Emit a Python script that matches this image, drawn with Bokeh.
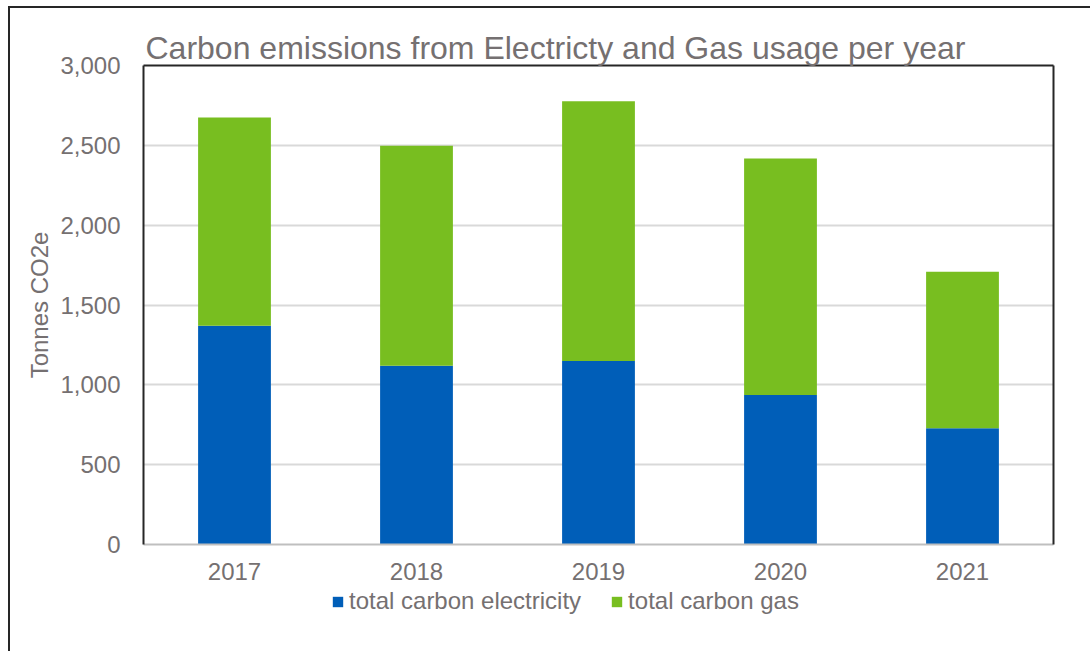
from bokeh.plotting import figure
from bokeh.layouts import column
from bokeh.models import (ColumnDataSource, Legend, LegendItem, LinearAxis, NumeralTickFormatter,
                          FixedTicker, Range1d)
from bokeh.embed import file_html
from bokeh.resources import INLINE

years = ["2017", "2018", "2019", "2020", "2021"]
electricity = [1370, 1120, 1150, 936, 728]
gas = [1305, 1378, 1626, 1482, 981]
series = ["electricity", "gas"]
series_labels = ["total carbon electricity", "total carbon gas"]
colors = ["#005EB8", "#78BE20"]
y_ticks = [0, 500, 1000, 1500, 2000, 2500, 3000]

FONT = "Liberation Sans"
TXT = "#757071"
BORDER = "2px solid #262626"

src = ColumnDataSource(dict(years=years, electricity=electricity, gas=gas))

p = figure(x_range=years, y_range=Range1d(0, 3000), width=1082, height=580,
           output_backend="svg", toolbar_location=None,
           min_border_left=133, min_border_right=39, min_border_top=57, min_border_bottom=44)
p.margin = (6, 0, 0, 8)
p.styles = {"border-left": BORDER, "border-top": BORDER}
p.title.text = "Carbon emissions from Electricty and Gas usage per year"
p.title.text_font = FONT
p.title.text_font_size = "32px"
p.title.text_font_style = "normal"
p.title.text_color = TXT
p.title.offset = 2
p.title.standoff = 0

p.vbar_stack(series, x="years", width=0.4, source=src, color=colors, line_color=None)

p.xgrid.grid_line_color = None
p.ygrid.grid_line_color = "#d9d9d9"
p.ygrid.grid_line_width = 2
p.ygrid.ticker = FixedTicker(ticks=y_ticks)
p.outline_line_color = None

p.yaxis.ticker = FixedTicker(ticks=y_ticks)
p.yaxis.formatter = NumeralTickFormatter(format="0,0")
p.yaxis.axis_label = "Tonnes CO2e"
p.yaxis.axis_label_text_font = FONT
p.yaxis.axis_label_text_font_size = "24px"
p.yaxis.axis_label_text_font_style = "normal"
p.yaxis.axis_label_text_color = TXT
p.yaxis.axis_label_standoff = 4
p.yaxis.axis_line_color = "#262626"
p.yaxis.axis_line_width = 2
p.yaxis.major_tick_line_color = None
p.yaxis.minor_tick_line_color = None
p.yaxis.major_label_standoff = 17

p.xaxis.axis_line_color = "#bfbfbf"
p.xaxis.axis_line_width = 2
p.xaxis.major_tick_line_color = None
p.xaxis.major_label_standoff = 12

for ax in (p.xaxis, p.yaxis):
    ax.major_label_text_font = FONT
    ax.major_label_text_font_size = "24px"
    ax.major_label_text_color = TXT

for loc in ("above", "right"):
    a = LinearAxis(ticker=FixedTicker(ticks=[]), axis_line_color="#262626", axis_line_width=2,
                   major_tick_line_color=None, minor_tick_line_color=None,
                   major_label_text_font_size="0px")
    p.add_layout(a, loc)

# legend strip below the chart (its zero-width bars are invisible, only the legend shows)
p2 = figure(width=1082, height=65, x_range=years, y_range=Range1d(-2, -1),
            output_backend="svg", toolbar_location=None,
            min_border_left=0, min_border_right=0, min_border_top=0, min_border_bottom=0)
p2.margin = (0, 0, 0, 8)
p2.styles = {"border-left": BORDER}
p2.axis.visible = False
p2.grid.grid_line_color = None
p2.outline_line_color = None
swatches = p2.vbar_stack(series, x="years", width=0, source=src, color=colors, line_color=None)

legend = Legend(items=[LegendItem(label=series_labels[i], renderers=[swatches[i]]) for i in range(2)],
                orientation="horizontal", location=(188, 36),
                label_text_font=FONT, label_text_font_size="24px", label_text_color=TXT,
                glyph_width=13, glyph_height=13, label_standoff=5, spacing=29,
                padding=0, margin=0, border_line_color=None, background_fill_alpha=0)
p2.add_layout(legend, "center")

layout = column(p, p2, spacing=0)
open("out.html", "w").write(file_html(layout, INLINE))
